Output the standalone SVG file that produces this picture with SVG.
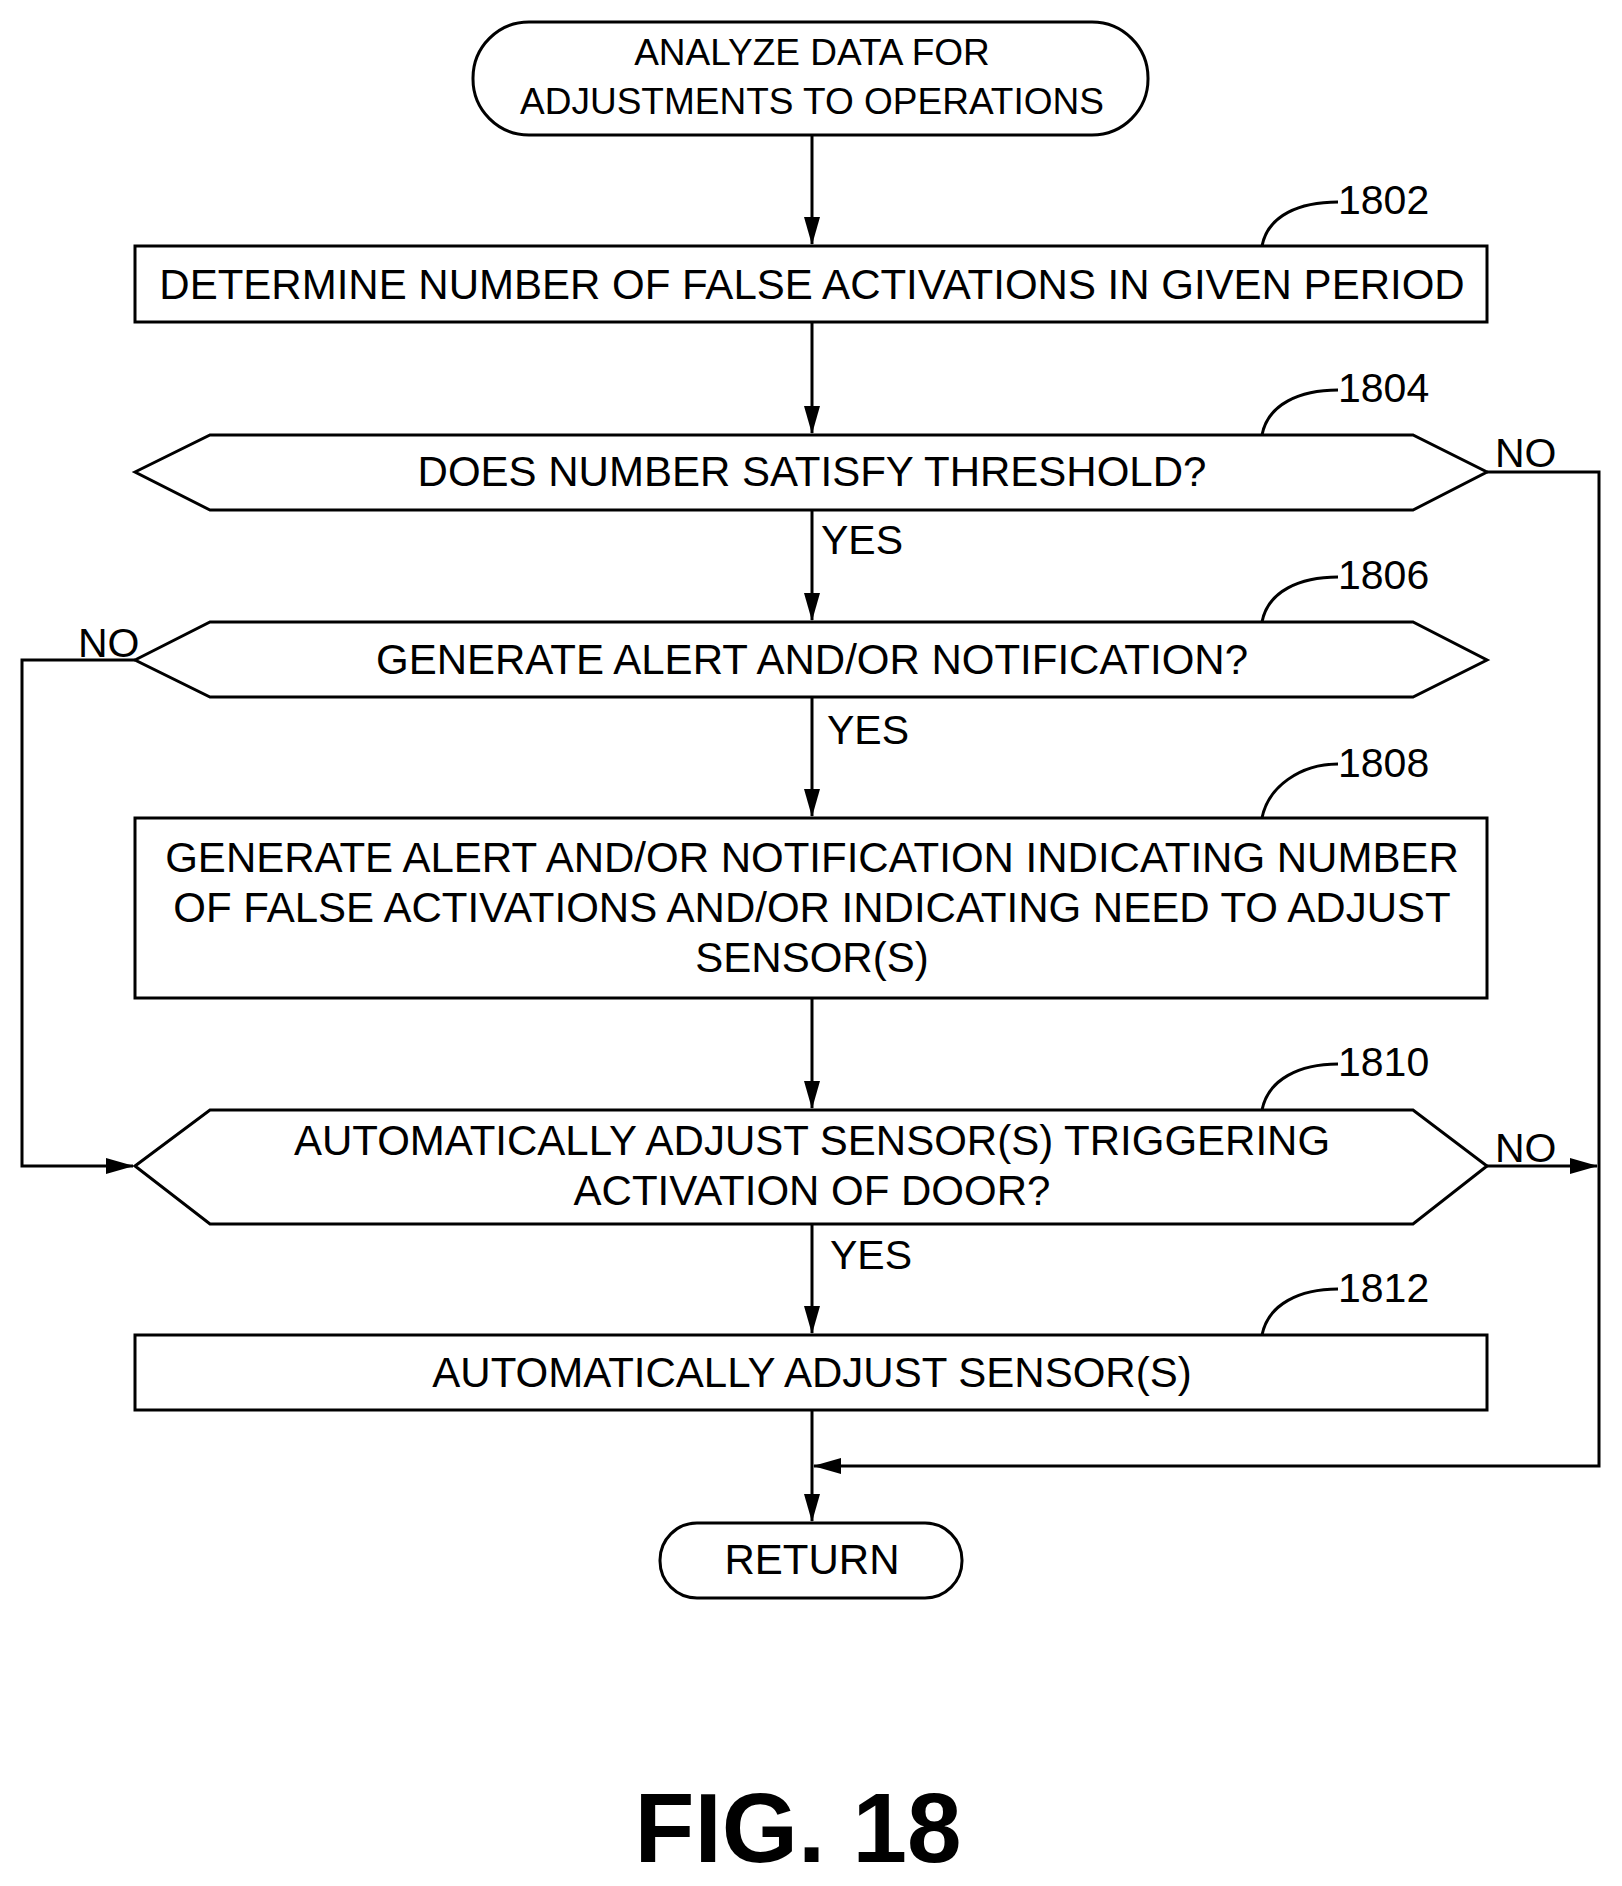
<svg xmlns="http://www.w3.org/2000/svg" width="1622" height="1886" viewBox="0 0 1622 1886">
<style>
.s{fill:#fff;stroke:#000;stroke-width:3}
.t{font-family:"Liberation Sans",Arial,sans-serif;font-size:42px;text-anchor:middle;fill:#000}
.l{font-family:"Liberation Sans",Arial,sans-serif;font-size:41px;fill:#000}
.c{fill:none;stroke:#000;stroke-width:3}
</style>
<defs><marker id="a" markerWidth="28" markerHeight="16" refX="27" refY="8" orient="auto" markerUnits="userSpaceOnUse" viewBox="0 0 28 16"><path d="M0,0L28,8L0,16z" fill="#000"/></marker></defs>
<rect width="1622" height="1886" fill="#fff"/>
<g id="connectors">
<path class="c" d="M812,135V244" marker-end="url(#a)"/>
<path class="c" d="M812,322V433" marker-end="url(#a)"/>
<path class="c" d="M812,510V620" marker-end="url(#a)"/>
<path class="c" d="M812,697V816" marker-end="url(#a)"/>
<path class="c" d="M812,998V1108" marker-end="url(#a)"/>
<path class="c" d="M812,1224V1333" marker-end="url(#a)"/>
<path class="c" d="M812,1410V1521" marker-end="url(#a)"/>
<path class="c" d="M1487,472H1599V1466H814" marker-end="url(#a)"/>
<path class="c" d="M135,660H22V1166H133" marker-end="url(#a)"/>
<path class="c" d="M1487,1166H1597" marker-end="url(#a)"/>
<path class="c" d="M1262,246C1268,215 1300,202 1338,202"/>
<path class="c" d="M1262,435C1268,404 1300,390 1338,390"/>
<path class="c" d="M1262,622C1268,591 1300,577 1338,577"/>
<path class="c" d="M1262,818C1268,787 1300,764 1338,764"/>
<path class="c" d="M1262,1110C1268,1079 1300,1064 1338,1064"/>
<path class="c" d="M1262,1335C1268,1304 1300,1289 1338,1289"/>
</g>
<g id="start"><rect class="s" x="473" y="22" width="675" height="113" rx="56"/><text class="t" x="812" y="65" style="font-size:37px">ANALYZE DATA FOR</text><text class="t" x="812" y="114" style="font-size:37px">ADJUSTMENTS TO OPERATIONS</text></g>
<g id="n1802"><rect class="s" x="135" y="246" width="1352" height="76"/><text class="t" x="812" y="299">DETERMINE NUMBER OF FALSE ACTIVATIONS IN GIVEN PERIOD</text><text class="l" x="1338" y="214">1802</text></g>
<g id="n1804"><path class="s" d="M135,472L210,435H1413L1487,472L1413,510H210Z"/><text class="t" x="812" y="486">DOES NUMBER SATISFY THRESHOLD?</text><text class="l" x="1338" y="402">1804</text><text class="l" x="1495" y="467">NO</text><text class="l" x="821" y="554">YES</text></g>
<g id="n1806"><path class="s" d="M135,660L210,622H1413L1487,660L1413,697H210Z"/><text class="t" x="812" y="674">GENERATE ALERT AND/OR NOTIFICATION?</text><text class="l" x="1338" y="589">1806</text><text class="l" x="78" y="657">NO</text><text class="l" x="827" y="744">YES</text></g>
<g id="n1808"><rect class="s" x="135" y="818" width="1352" height="180"/><text class="t" x="812" y="872">GENERATE ALERT AND/OR NOTIFICATION INDICATING NUMBER</text><text class="t" x="812" y="922">OF FALSE ACTIVATIONS AND/OR INDICATING NEED TO ADJUST</text><text class="t" x="812" y="972">SENSOR(S)</text><text class="l" x="1338" y="777">1808</text></g>
<g id="n1810"><path class="s" d="M135,1166L210,1110H1413L1487,1166L1413,1224H210Z"/><text class="t" x="812" y="1155">AUTOMATICALLY ADJUST SENSOR(S) TRIGGERING</text><text class="t" x="812" y="1205">ACTIVATION OF DOOR?</text><text class="l" x="1338" y="1076">1810</text><text class="l" x="1495" y="1162">NO</text><text class="l" x="830" y="1269">YES</text></g>
<g id="n1812"><rect class="s" x="135" y="1335" width="1352" height="75"/><text class="t" x="812" y="1387">AUTOMATICALLY ADJUST SENSOR(S)</text><text class="l" x="1338" y="1302">1812</text></g>
<g id="end"><rect class="s" x="660" y="1523" width="302" height="75" rx="37"/><text class="t" x="812" y="1574">RETURN</text></g>
<text x="798" y="1862" style="font-family:'Liberation Sans',Arial,sans-serif;font-size:98px;font-weight:bold;text-anchor:middle">FIG. 18</text>
</svg>
